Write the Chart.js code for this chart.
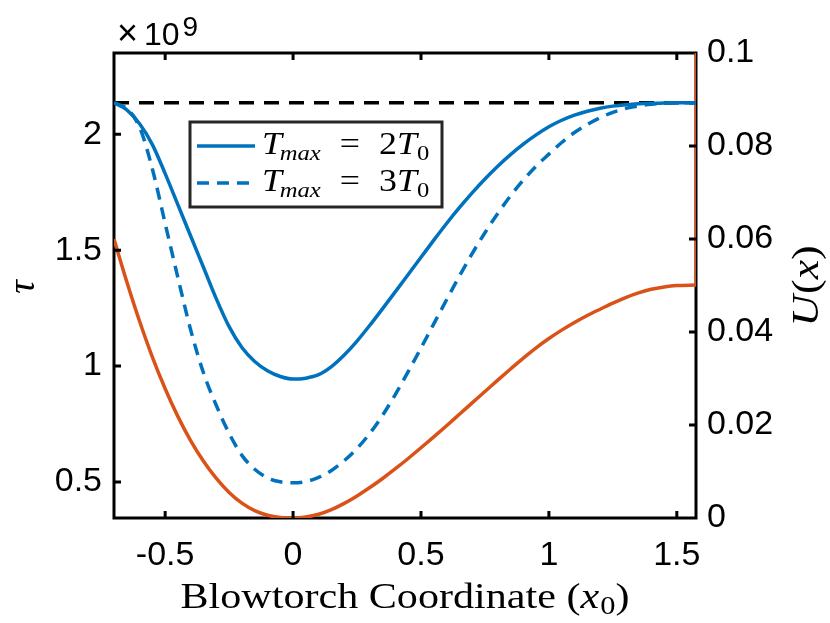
<!DOCTYPE html>
<html>
<head>
<meta charset="utf-8">
<script src="https://cdn.jsdelivr.net/npm/chart.js@4/dist/chart.umd.min.js"></script>
<style>
  body { margin: 0; background: #fff; }
  canvas { display: block; }
</style>
</head>
<body>
<canvas id="c" width="830" height="623"></canvas>
<script>
// blowtorch coordinate x0
const xs = [-0.7, -0.65, -0.6, -0.55, -0.5, -0.45, -0.4, -0.35, -0.3, -0.25, -0.2, -0.15, -0.1, -0.05, 0,
  0.05, 0.1, 0.15, 0.2, 0.25, 0.3, 0.35, 0.4, 0.45, 0.5, 0.55, 0.6, 0.65, 0.7, 0.75, 0.8,
  0.85, 0.9, 0.95, 1, 1.05, 1.1, 1.15, 1.2, 1.25, 1.3, 1.35, 1.4, 1.45, 1.5, 1.575];
// tau, in units of 1e9, Tmax = 2T0
const tau2 = [2.135, 2.105, 2.045, 1.955, 1.83, 1.695, 1.56, 1.425, 1.29, 1.17, 1.08, 1.02, 0.98, 0.955, 0.944,
  0.948, 0.963, 0.998, 1.048, 1.108, 1.176, 1.248, 1.321, 1.395, 1.469, 1.543, 1.615, 1.683, 1.747, 1.807, 1.862,
  1.912, 1.957, 1.997, 2.032, 2.06, 2.082, 2.099, 2.112, 2.121, 2.127, 2.131, 2.133, 2.134, 2.135, 2.135];
// tau, Tmax = 3T0
const tau3 = [2.135, 2.11, 2.03, 1.85, 1.615, 1.38, 1.155, 0.97, 0.83, 0.71, 0.615, 0.555, 0.518, 0.501, 0.497,
  0.502, 0.52, 0.55, 0.592, 0.645, 0.71, 0.788, 0.878, 0.976, 1.078, 1.182, 1.286, 1.388, 1.485, 1.575, 1.658,
  1.734, 1.802, 1.862, 1.914, 1.964, 2.007, 2.042, 2.071, 2.094, 2.111, 2.122, 2.129, 2.133, 2.135, 2.135];
// potential U(x), right axis
const pot = [0.06, 0.0508, 0.0423, 0.0346, 0.0278, 0.0218, 0.0166, 0.0122, 0.0085, 0.0055, 0.0032, 0.0016, 0.0006, 0.0001, 0,
  0.0002, 0.0008, 0.0018, 0.00315, 0.00475, 0.00655, 0.0085, 0.0106, 0.0128, 0.0151, 0.01745, 0.01985, 0.0223, 0.02475, 0.0272, 0.02965,
  0.03205, 0.0344, 0.0366, 0.0386, 0.0404, 0.04205, 0.04355, 0.0449, 0.0462, 0.0474, 0.0484, 0.0492, 0.0497, 0.05, 0.0501];
// the potential goes straight up at the right end
const wallX = [1.575, 1.575];
const wallU = [0.0501, 0.1];
const tauRef = 2.135;

const xLimits = [-0.7, 1.575];
const tauLimits = [0.345, 2.35];
const uLimits = [0, 0.1];
const xTicks = [-0.5, 0, 0.5, 1, 1.5];
const tauTicks = [0.5, 1, 1.5, 2];
const uTicks = [0, 0.02, 0.04, 0.06, 0.08, 0.1];
const tauExp = 9;

const BLUE = '#0072BD';
const ORANGE = '#D95319';
const SANS = "'Liberation Sans', Arial, sans-serif";
const SERIF = "'Liberation Serif', 'Times New Roman', serif";
const LW = 3.5;

const pts = (a, b) => a.map((v, i) => ({ x: v, y: b[i] }));

// write a row of text pieces (for the math labels), sx stretches it sideways
function pieces(ctx, x, y, parts, sx, measureOnly) {
  let w = 0;
  ctx.save();
  ctx.translate(x, y);
  ctx.scale(sx, 1);
  parts.forEach(p => {
    ctx.font = p.f;
    if (!measureOnly) ctx.fillText(p.t, w, p.dy || 0);
    w += ctx.measureText(p.t).width + (p.sp || 0);
  });
  ctx.restore();
  return w * sx;
}

const deco = {
  id: 'deco',
  beforeDatasetsDraw(chart) {
    const { ctx, chartArea: a } = chart;
    ctx.save();
    ctx.lineWidth = 3;
    ctx.strokeStyle = '#000';
    ctx.strokeRect(a.left, a.top, a.right - a.left, a.bottom - a.top);
    ctx.restore();
  },
  afterDatasetsDraw(chart) {
    const { ctx, chartArea: a, scales } = chart;
    const L = 7;
    ctx.save();
    ctx.lineWidth = 3;
    ctx.strokeStyle = '#000';
    ctx.beginPath();
    scales.x.ticks.forEach(t => {
      const p = scales.x.getPixelForValue(t.value);
      ctx.moveTo(p, a.bottom); ctx.lineTo(p, a.bottom - L);
      ctx.moveTo(p, a.top); ctx.lineTo(p, a.top + L);
    });
    scales.y.ticks.forEach(t => {
      const p = scales.y.getPixelForValue(t.value);
      ctx.moveTo(a.left, p); ctx.lineTo(a.left + L, p);
    });
    scales.y1.ticks.forEach(t => {
      const p = scales.y1.getPixelForValue(t.value);
      if (t.value > uLimits[0] && t.value < uLimits[1]) { ctx.moveTo(a.right, p); ctx.lineTo(a.right - L, p); }
    });
    ctx.stroke();
    ctx.restore();
  },
  afterDraw(chart) {
    const { ctx, chartArea: a } = chart;
    ctx.save();
    ctx.fillStyle = '#000';
    ctx.textBaseline = 'alphabetic';

    // x10^9 above the left axis
    pieces(ctx, a.left + 3, 45, [
      { t: '\u00d7', f: `36px ${SANS}`, sp: 6 },
      { t: '10', f: `32px ${SANS}`, sp: 3 },
      { t: String(tauExp), f: `28px ${SANS}`, dy: -9 }
    ], 1);

    // x axis title
    const xt = [
      { t: 'Blowtorch Coordinate (', f: `36px ${SERIF}` },
      { t: 'x', f: `italic 36px ${SERIF}`, sp: 1 },
      { t: '0', f: `26px ${SERIF}`, dy: 6 },
      { t: ')', f: `36px ${SERIF}` }
    ];
    const xw = pieces(ctx, 0, 0, xt, 1.17, true);
    pieces(ctx, (a.left + a.right) / 2 - xw / 2, 608, xt, 1.17);

    // tau (left)
    ctx.save();
    ctx.translate(34, 287);
    ctx.rotate(-Math.PI / 2);
    ctx.font = `italic 38px ${SERIF}`;
    ctx.textAlign = 'center';
    ctx.fillText('\u03c4', 0, 0);
    ctx.restore();

    // U(x) (right)
    const ut = [
      { t: 'U', f: `italic 38px ${SERIF}`, sp: 1 },
      { t: '(', f: `38px ${SERIF}` },
      { t: 'x', f: `italic 38px ${SERIF}` },
      { t: ')', f: `38px ${SERIF}` }
    ];
    ctx.save();
    ctx.translate(818, 286);
    ctx.rotate(-Math.PI / 2);
    const uw = pieces(ctx, 0, 0, ut, 1.15, true);
    pieces(ctx, -uw / 2, 0, ut, 1.15);
    ctx.restore();

    // legend
    const lx = a.left + 76, ly = a.top + 69, lw = 252, lh = 85;
    ctx.fillStyle = '#fff';
    ctx.fillRect(lx, ly, lw, lh);
    ctx.lineWidth = 3;
    ctx.strokeStyle = '#262626';
    ctx.strokeRect(lx, ly, lw, lh);
    const rows = [
      { dash: [], n: '2', y: ly + 24 },
      { dash: [12, 8], n: '3', y: ly + 61 }
    ];
    rows.forEach(r => {
      ctx.strokeStyle = BLUE;
      ctx.lineWidth = LW;
      ctx.setLineDash(r.dash);
      ctx.beginPath();
      ctx.moveTo(lx + 7, r.y);
      ctx.lineTo(lx + 65, r.y);
      ctx.stroke();
      ctx.setLineDash([]);
      ctx.fillStyle = '#000';
      pieces(ctx, lx + 72, r.y + 8, [
        { t: 'T', f: `italic 32px ${SERIF}`, sp: -2 },
        { t: 'max', f: `italic 22px ${SERIF}`, dy: 6, sp: 17 },
        { t: '=', f: `32px ${SERIF}`, sp: 17 },
        { t: r.n, f: `32px ${SERIF}` },
        { t: 'T', f: `italic 32px ${SERIF}`, sp: 0 },
        { t: '0', f: `22px ${SERIF}`, dy: 6 }
      ], 1.12);
    });
    ctx.restore();
  }
};

new Chart(document.getElementById('c'), {
  type: 'line',
  data: {
    datasets: [
      { data: pts(xs, tau2), yAxisID: 'y', borderColor: BLUE, borderWidth: LW, pointRadius: 0, cubicInterpolationMode: 'monotone', order: 1 },
      { data: pts(xs, tau3), yAxisID: 'y', borderColor: BLUE, borderWidth: LW, borderDash: [12, 8], pointRadius: 0, cubicInterpolationMode: 'monotone', order: 2 },
      { data: pts(wallX, wallU), yAxisID: 'y1', borderColor: ORANGE, borderWidth: 3, pointRadius: 0, order: 3 },
      { data: pts(xs, pot), yAxisID: 'y1', borderColor: ORANGE, borderWidth: LW, pointRadius: 0, cubicInterpolationMode: 'monotone', order: 4 },
      { data: pts(xLimits, [tauRef, tauRef]), yAxisID: 'y', borderColor: '#000', borderWidth: LW, borderDash: [15, 10], pointRadius: 0, order: 5 }
    ]
  },
  options: {
    responsive: false,
    animation: false,
    events: [],
    layout: { padding: { top: 53, left: 0, right: 0, bottom: 0 } },
    plugins: { legend: { display: false }, tooltip: { enabled: false } },
    scales: {
      x: {
        type: 'linear', position: 'bottom',
        min: xLimits[0], max: xLimits[1],
        afterBuildTicks: s => { s.ticks = xTicks.map(v => ({ value: v })); },
        afterFit: s => { s.height = 105; },
        grid: { display: false, drawTicks: false },
        border: { display: false },
        ticks: { color: '#000', font: { family: SANS, size: 34 }, padding: 17, maxRotation: 0, callback: v => String(v) }
      },
      y: {
        type: 'linear', position: 'left',
        min: tauLimits[0], max: tauLimits[1],
        afterBuildTicks: s => { s.ticks = tauTicks.map(v => ({ value: v })); },
        afterFit: s => { s.width = 114; },
        grid: { display: false, drawTicks: false },
        border: { display: false },
        ticks: { color: '#000', font: { family: SANS, size: 34 }, padding: 12, callback: v => String(v) }
      },
      y1: {
        type: 'linear', position: 'right',
        min: uLimits[0], max: uLimits[1],
        afterBuildTicks: s => { s.ticks = uTicks.map(v => ({ value: v })); },
        afterFit: s => { s.width = 134; },
        grid: { display: false, drawTicks: false },
        border: { display: false },
        ticks: { color: '#000', font: { family: SANS, size: 34 }, padding: 11, callback: v => String(Math.round(v * 100) / 100) }
      }
    }
  },
  plugins: [deco]
});
</script>
</body>
</html>
